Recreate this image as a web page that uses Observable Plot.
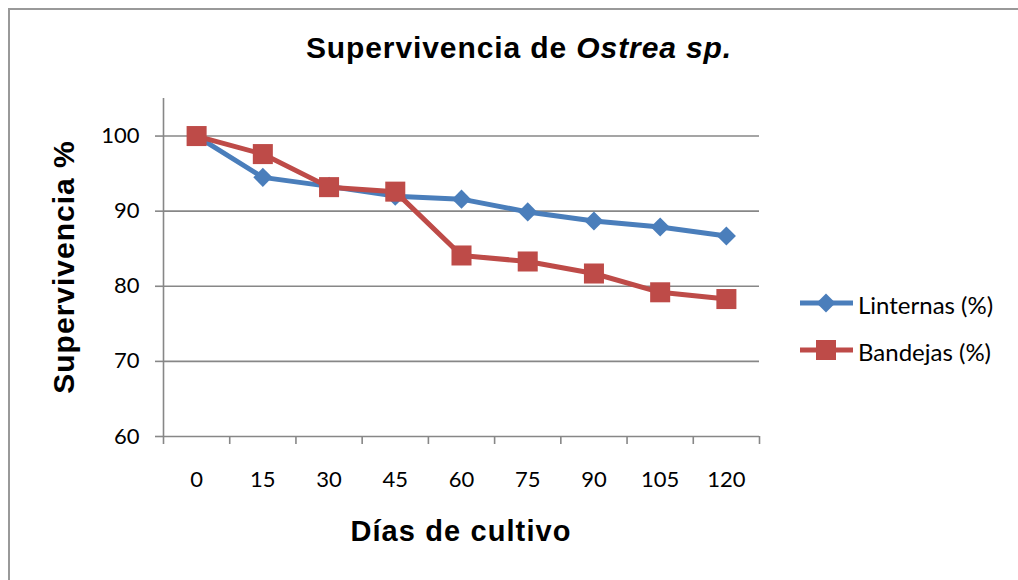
<!DOCTYPE html>
<html>
<head>
<meta charset="utf-8">
<script src="https://cdn.jsdelivr.net/npm/d3@7"></script>
<script src="https://cdn.jsdelivr.net/npm/@observablehq/plot@0.6"></script>
<style>
  html, body { margin: 0; padding: 0; background: #fff; }
  #wrap { position: relative; width: 1018px; height: 580px; overflow: hidden; background: #fff; }
  #border { position: absolute; left: 8px; top: 8px; width: 1100px; height: 700px; border: 2px solid #999; box-sizing: border-box; }
  #chart { position: absolute; left: 0; top: 0; }
  #overlay { position: absolute; left: 0; top: 0; pointer-events: none; }
</style>
</head>
<body>
<div id="wrap">
  <div id="border"></div>
  <div id="chart"></div>
  <svg id="overlay" width="1018" height="580"></svg>
</div>
<script>
// ---- data ----
const days = [0, 15, 30, 45, 60, 75, 90, 105, 120];
const linternas = [100, 94.5, 93.3, 92.0, 91.6, 89.9, 88.7, 87.9, 86.7];
const bandejas = [100, 97.6, 93.2, 92.6, 84.1, 83.3, 81.7, 79.2, 78.3];
const seriesNames = ["Linternas (%)", "Bandejas (%)"];
const seriesColors = ["#4a7ebb", "#be4b48"];
const seriesSymbols = ["diamond2", "square"];
const yTicks = [60, 70, 80, 90, 100];
const gridLines = [70, 80, 90, 100];
const xBoundaries = [-7.5, 7.5, 22.5, 37.5, 52.5, 67.5, 82.5, 97.5, 112.5, 127.5];
const titleMain = "Supervivencia de ";
const titleItalic = "Ostrea sp.";
const yTitle = "Supervivencia %";
const xTitle = "Días de cultivo";

const lin = days.map((d, i) => ({day: d, value: linternas[i]}));
const ban = days.map((d, i) => ({day: d, value: bandejas[i]}));

const axisGray = "#878787";
const symbolR = {diamond2: 8.6, square: 11.3};

const plot = Plot.plot({
  width: 1018,
  height: 580,
  marginTop: 98,
  marginBottom: 144,
  marginLeft: 163,
  marginRight: 259,
  x: {domain: [-7.5, 127.5]},
  y: {domain: [60, 105]},
  style: {fontFamily: "Lato, 'Open Sans', sans-serif", background: "transparent", color: "black"},
  marks: [
    Plot.ruleY(gridLines, {stroke: axisGray, strokeWidth: 1.6}),
    Plot.ruleY([60], {stroke: axisGray, strokeWidth: 1.6}),
    Plot.ruleX([-7.5], {stroke: axisGray, strokeWidth: 1.6}),
    Plot.axisY(yTicks, {tickSize: 8, tickPadding: 16, fontSize: 22, stroke: axisGray, strokeWidth: 1.6, label: null}),
    Plot.axisX(xBoundaries, {tickSize: 8, tickFormat: () => "", stroke: axisGray, strokeWidth: 1.6, label: null}),
    Plot.axisX(days, {tickSize: 0, tickPadding: 35, fontSize: 22, label: null}),
    Plot.line(lin, {x: "day", y: "value", stroke: seriesColors[0], strokeWidth: 5}),
    Plot.dot(lin, {x: "day", y: "value", symbol: seriesSymbols[0], r: symbolR[seriesSymbols[0]], fill: seriesColors[0], stroke: "none"}),
    Plot.line(ban, {x: "day", y: "value", stroke: seriesColors[1], strokeWidth: 5}),
    Plot.dot(ban, {x: "day", y: "value", symbol: seriesSymbols[1], r: symbolR[seriesSymbols[1]], fill: seriesColors[1], stroke: "none"})
  ]
});
document.getElementById("chart").appendChild(plot);

// ---- titles & legend ----
const ov = d3.select("#overlay");
const boldFont = "'Liberation Sans', Arial, sans-serif";

const t = ov.append("text")
  .attr("x", 519).attr("y", 58)
  .attr("text-anchor", "middle")
  .attr("font-family", boldFont).attr("font-weight", "bold")
  .attr("font-size", 30).attr("letter-spacing", 0.9)
  .attr("fill", "black");
t.append("tspan").text(titleMain);
t.append("tspan").attr("font-style", "italic").text(titleItalic);

ov.append("text")
  .attr("transform", "translate(74,267) rotate(-90)")
  .attr("text-anchor", "middle")
  .attr("font-family", boldFont).attr("font-weight", "bold")
  .attr("font-size", 30).attr("letter-spacing", 1.0)
  .attr("fill", "black")
  .text(yTitle);

ov.append("text")
  .attr("x", 461).attr("y", 541)
  .attr("text-anchor", "middle")
  .attr("font-family", boldFont).attr("font-weight", "bold")
  .attr("font-size", 29).attr("letter-spacing", 1.1)
  .attr("fill", "black")
  .text(xTitle);

const legendY = [303, 350];
const symbolTypes = {diamond2: d3.symbolDiamond2, square: d3.symbolSquare};
seriesNames.forEach((name, i) => {
  const g = ov.append("g").attr("transform", `translate(0,${legendY[i]})`);
  g.append("line").attr("x1", 800).attr("x2", 853).attr("y1", 0).attr("y2", 0)
    .attr("stroke", seriesColors[i]).attr("stroke-width", 5);
  const r = symbolR[seriesSymbols[i]];
  g.append("path")
    .attr("transform", "translate(826,0)")
    .attr("d", d3.symbol(symbolTypes[seriesSymbols[i]], Math.PI * r * r)())
    .attr("fill", seriesColors[i]);
  g.append("text").attr("x", 858).attr("y", 1)
    .attr("dominant-baseline", "central")
    .attr("font-family", "Lato, 'Open Sans', sans-serif")
    .attr("font-size", 24).attr("fill", "black")
    .text(name);
});
</script>
</body>
</html>
